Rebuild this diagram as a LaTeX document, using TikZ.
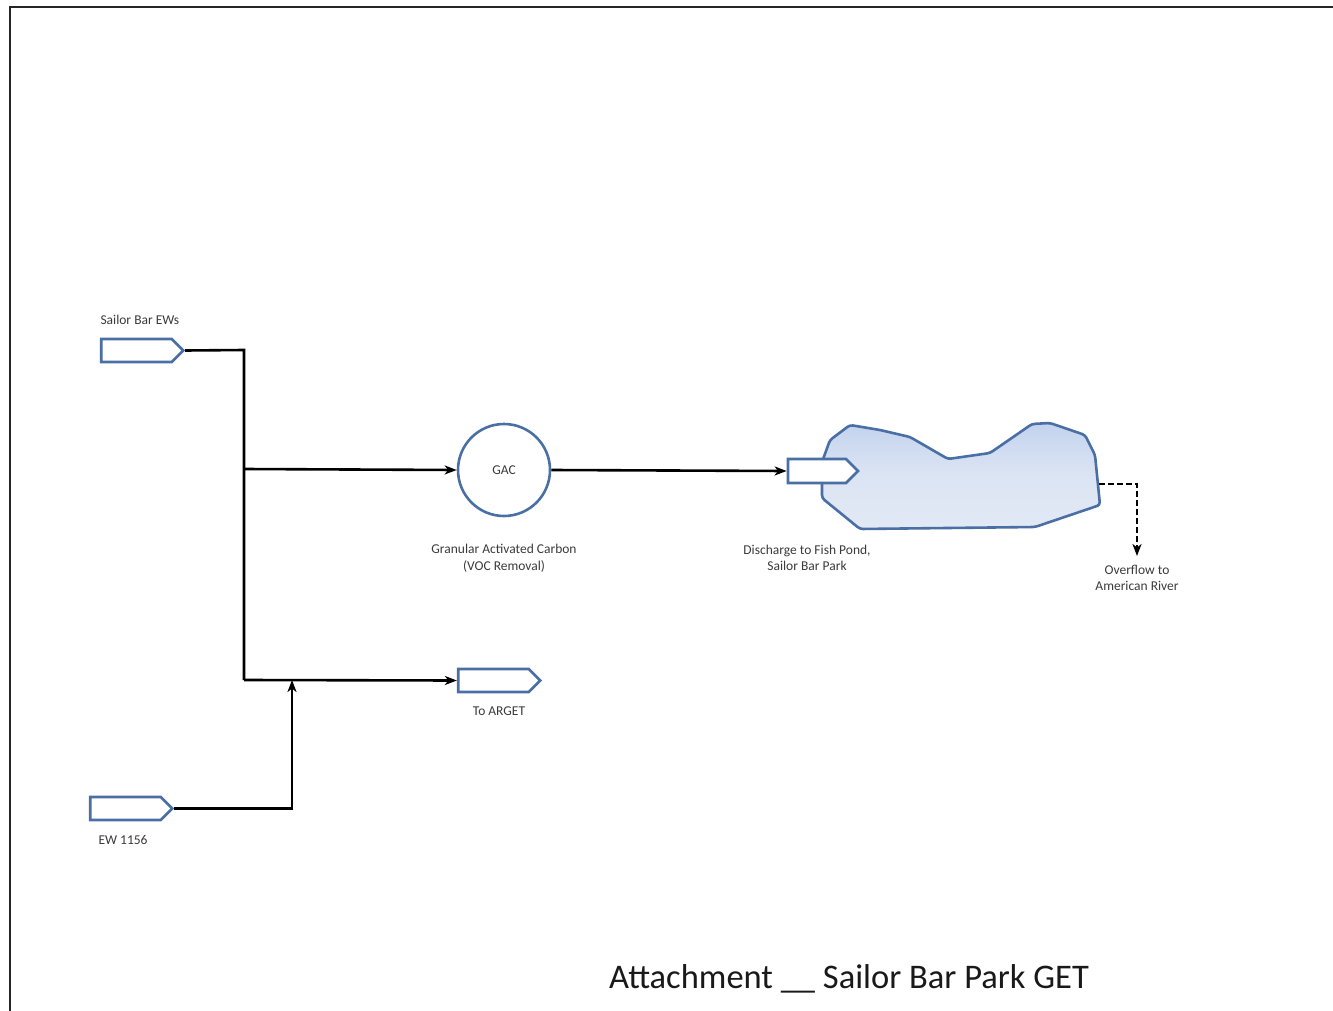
\documentclass[tikz,border=0pt]{standalone}
\usepackage{fontspec}
\setmainfont{Carlito}
\usetikzlibrary{arrows.meta,shapes.symbols}
\definecolor{shapeblue}{HTML}{4A6FA5}
\definecolor{txtgray}{HTML}{3A3A3A}
\definecolor{pondtop}{HTML}{C3D3EE}
\definecolor{pondmid}{HTML}{E2E9F5}
\begin{document}
\begin{tikzpicture}[x=1pt,y=-1pt,
  tagbox/.style={signal, signal to=east, signal pointer angle=90, draw=shapeblue, fill=white,
    line width=2.8pt, minimum width=82pt, minimum height=23pt, inner sep=0pt},
  lbl/.style={font=\fontsize{13.5}{16.5}\selectfont, text=txtgray, align=center},
  pipe/.style={line width=2.6pt, black},
  arr/.style={pipe, -{Stealth[length=12pt,width=9pt,inset=3.5pt]}},
]
\useasboundingbox (0,0) rectangle (1333,1011);
% frame
\draw[line width=2.8pt, black!85] (10,1015) -- (10,7) -- (1340,7);

% pond
\path[draw=shapeblue, line width=2.6pt, top color=pondtop, bottom color=pondmid, middle color=pondmid!80!pondtop, rounded corners=3pt]
  (822,462) -- (830,440) -- (850,425) -- (880,430) -- (910,437) -- (948,459) -- (990,453)
  -- (1032,424) -- (1050,423) -- (1085,435) -- (1095,455) -- (1100,505) -- (1035,527)
  -- (860,529) -- (822,498) -- cycle;
\coordinate (pondout) at (1099,484);

% nodes
\node[tagbox] (sb) at (136.5,350.5) {};
\node[tagbox] (ew) at (125.5,808.5) {};
\node[tagbox] (arget) at (493.5,680.5) {};
\node[tagbox, minimum width=70pt, minimum height=24pt] (dis) at (817,471) {};
\node[circle, draw=shapeblue, line width=2.6pt, minimum size=92pt, inner sep=0pt, fill=white] (gac) at (504,470) {};
\node[lbl] at (gac.center) {GAC};

\node[lbl, anchor=west] at (97,320) {Sailor Bar EWs};
\node[lbl, anchor=west] at (95,840) {EW 1156};
\node[lbl] at (499,711) {To ARGET};
\node[lbl] at (504,558) {Granular Activated Carbon\\(VOC Removal)};
\node[lbl] at (807,558) {Discharge to Fish Pond,\\Sailor Bar Park};
\node[lbl] at (1137,578) {Overflow to\\American River};

\node[font=\fontsize{34.5}{40}\selectfont, text=black!90] at (849,979) {Attachment \_\_ Sailor Bar Park GET};

% connectors
\coordinate (j1) at (244,469);
\coordinate (j2) at (244,680);
\coordinate (j3) at (292,680);
\draw[pipe] (sb.east) -- (244,350) -- (j2);
\draw[arr] (j1) -- (gac.west);
\draw[arr] (j2) -- (arget.west);
\draw[arr] (ew.east) -| (j3);
\draw[arr] (gac.east) -- (dis.west);
\draw[arr, dashed, dash pattern=on 6pt off 3pt] (pondout) -- (1137,484) -- (1137,556);
\end{tikzpicture}
\end{document}
